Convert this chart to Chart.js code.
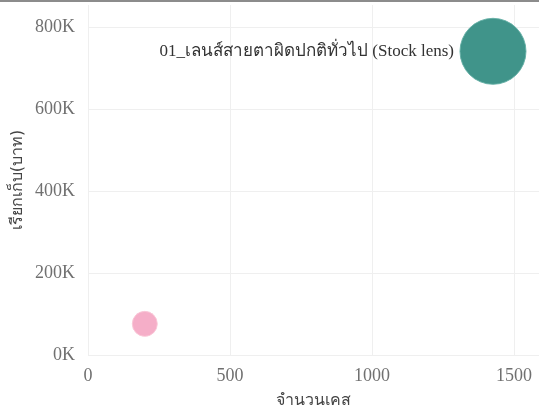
<!DOCTYPE html>
<html>
<head>
<meta charset="utf-8">
<script src="https://cdn.jsdelivr.net/npm/chart.js@4/dist/chart.umd.min.js"></script>
<style>
    html, body { margin: 0; padding: 0; background: #fff; }
    #wrap { width: 539px; height: 404px; border-top: 2px solid #8c8c8c; position: relative; }
</style>
</head>
<body>
<div id="wrap"><canvas id="c"></canvas></div>
<script>
// Bubble chart: cases vs billed amount per lens group
const groupLabels = ['01_เลนส์สายตาผิดปกติทั่วไป (Stock lens)', ''];
const caseCounts = [1426, 200];
const billedBaht = [741000, 76000];
const bubbleRadius = [33, 12.5];
const bubbleColors = ['rgb(64, 148, 138)', 'rgb(245, 174, 200)'];

const xTickValues = [0, 500, 1000, 1500];
const yTickValues = [0, 200000, 400000, 600000, 800000];

const tickFont = { family: "'Liberation Serif', 'Times New Roman', serif", size: 18 };
const gridColor = '#efefef';

// Draws the group name to the left of each labelled bubble
const bubbleLabels = {
    id: 'bubbleLabels',
    afterDatasetsDraw(chart) {
        const ctx = chart.ctx;
        chart.data.datasets.forEach((ds, di) => {
            const meta = chart.getDatasetMeta(di);
            meta.data.forEach((el, i) => {
                const text = groupLabels[i];
                if (!text) return;
                const r = ds.data[i].r;
                ctx.save();
                ctx.font = "17px 'Liberation Serif', 'Times New Roman', serif";
                ctx.fillStyle = '#333';
                ctx.textAlign = 'right';
                ctx.textBaseline = 'middle';
                ctx.fillText(text, el.x - r - 6, el.y);
                ctx.restore();
            });
        });
    }
};

const points = caseCounts.map((x, i) => ({ x: x, y: billedBaht[i], r: bubbleRadius[i] }));

new Chart(document.getElementById('c'), {
    type: 'bubble',
    data: {
        datasets: [{
            data: points,
            backgroundColor: bubbleColors,
            borderColor: ['rgba(100, 175, 165, 0.9)', 'rgba(250, 200, 215, 0.9)'],
            borderWidth: 1
        }]
    },
    options: {
        responsive: true,
        maintainAspectRatio: false,
        animation: false,
        layout: { autoPadding: false, padding: { top: 3, right: 0, left: 0, bottom: 0 } },
        plugins: {
            legend: { display: false },
            tooltip: { enabled: false }
        },
        scales: {
            x: {
                type: 'linear',
                min: 0,
                max: 1588,
                afterBuildTicks: s => { s.ticks = xTickValues.map(v => ({ value: v })); },
                afterFit: s => { s.height = 51; s.paddingLeft = 0; s.paddingRight = 0; },
                grid: { color: gridColor, drawTicks: false },
                border: { color: gridColor },
                ticks: {
                    font: tickFont,
                    color: '#707070',
                    padding: 10,
                    maxRotation: 0,
                    callback: v => String(v)
                },
                title: {
                    display: true,
                    text: 'จำนวนเคส',
                    font: { family: "'DejaVu Sans', sans-serif", size: 16 },
                    color: '#444',
                    padding: { top: 0, bottom: -4 }
                }
            },
            y: {
                type: 'linear',
                min: 0,
                max: 854000,
                afterBuildTicks: s => { s.ticks = yTickValues.map(v => ({ value: v })); },
                afterFit: s => { s.width = 88; s.paddingTop = 0; s.paddingBottom = 0; },
                grid: { color: gridColor, drawTicks: false },
                border: { color: gridColor },
                ticks: {
                    font: tickFont,
                    color: '#707070',
                    padding: 13,
                    callback: v => (v / 1000) + 'K'
                },
                title: {
                    display: true,
                    text: 'เรียกเก็บ(บาท)',
                    font: { family: "'DejaVu Sans', sans-serif", size: 16 },
                    color: '#444',
                    padding: { top: 8, bottom: 0 }
                }
            }
        }
    },
    plugins: [bubbleLabels]
});
</script>
</body>
</html>
